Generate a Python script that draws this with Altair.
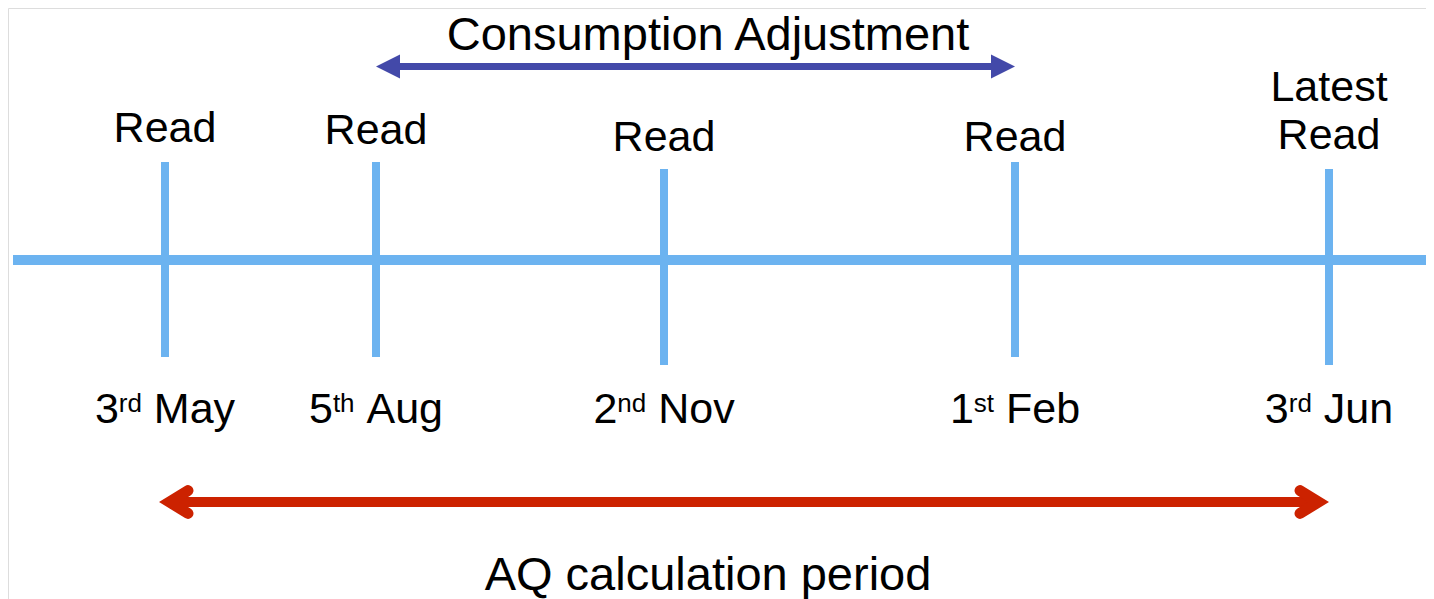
import altair as alt
import pandas as pd

# ---------------- data ----------------
EVENT_POS = [165, 376, 664, 1015, 1329]          # schematic position of each meter read
TOP_LABELS = ["Read", "Read", "Read", "Read", "Latest\nRead"]
DATE_NUM = ["3", "5", "2", "1", "3"]
DATE_SUP = ["rd", "th", "nd", "st", "rd"]
DATE_MONTH = ["May", "Aug", "Nov", "Feb", "Jun"]

ARROW_TEXT = ["Consumption Adjustment", "AQ calculation period"]
ARROW_FROM = [376, 165]
ARROW_TO = [1015, 1329]

TIMELINE_START = 13
TIMELINE_END = 1434

# ---------------- layout ----------------
LINE_Y = 260
TICK_TOP = [162, 162, 169, 162, 169]
TICK_BOTTOM = [357, 357, 365, 357, 365]
READ_BASELINE = [142, 144, 151, 151, 149]
READ_LINE_H = 48
DATE_BASELINE = 423
ARROW_Y = [66.5, 502]
ARROW_LABEL_X = [708, 708]
ARROW_LABEL_BASELINE = [50, 590]

FONT = "Liberation Sans"
F_MAIN = 43
F_SUP = 26
F_BIG = 47
LIGHT_BLUE = "#6CB3F0"
DARK_BLUE = "#4349A9"
RED = "#CC2200"

W, H = 1418, 591
xs = alt.Scale(domain=[8, 8 + W], nice=False, zero=False)
ys = alt.Scale(domain=[8, 8 + H], nice=False, zero=False, reverse=True)


def X(f="x"):
    return alt.X(f"{f}:Q", scale=xs, axis=None)


def Y(f="y"):
    return alt.Y(f"{f}:Q", scale=ys, axis=None)


# Arial / Liberation Sans advance widths (em)
ADV = {"0": .556, "1": .556, "2": .556, "3": .556, "4": .556, "5": .556,
       "r": .333, "d": .556, "t": .278, "h": .556, "n": .556, "s": .5,
       "M": .833, "a": .556, "y": .5, "A": .667, "u": .556, "g": .556,
       "N": .722, "o": .556, "v": .5, "F": .611, "e": .556, "b": .556,
       "J": .5, " ": .278}


def tw(s, size):
    return sum(ADV.get(c, .556) for c in s) * size


# ---------------- tables ----------------
line_df = pd.DataFrame({"x": [TIMELINE_START], "x2": [TIMELINE_END], "y": [LINE_Y]})
tick_df = pd.DataFrame({"x": EVENT_POS, "y": TICK_TOP, "y2": TICK_BOTTOM})

read_rows = []
for xp, lab, yb in zip(EVENT_POS, TOP_LABELS, READ_BASELINE):
    lines = lab.split("\n")
    n = len(lines)
    for i, ln in enumerate(lines):
        read_rows.append({"x": xp, "y": yb - (n - 1 - i) * READ_LINE_H, "text": ln})
read_df = pd.DataFrame(read_rows)

main_rows, sup_rows = [], []
for xp, num, sup, mon in zip(EVENT_POS, DATE_NUM, DATE_SUP, DATE_MONTH):
    wn, ws, sp, wm = tw(num, F_MAIN), tw(sup, F_SUP), tw(" ", F_MAIN), tw(mon, F_MAIN)
    left = xp - (wn + ws + sp + wm) / 2
    main_rows.append({"x": left, "y": DATE_BASELINE, "text": num})
    sup_rows.append({"x": left + wn, "y": DATE_BASELINE, "text": sup})
    main_rows.append({"x": left + wn + ws + sp, "y": DATE_BASELINE, "text": mon})
date_df = pd.DataFrame(main_rows)
sup_df = pd.DataFrame(sup_rows)

blue = pd.DataFrame({"x": [ARROW_FROM[0]], "x2": [ARROW_TO[0]], "y": [ARROW_Y[0]]})
red = pd.DataFrame({"x": [ARROW_FROM[1]], "x2": [ARROW_TO[1]], "y": [ARROW_Y[1]]})
blue_l = pd.DataFrame({"x": [ARROW_FROM[0]], "y": [ARROW_Y[0]]})
blue_r = pd.DataFrame({"x": [ARROW_TO[0]], "y": [ARROW_Y[0]]})
red_l = pd.DataFrame({"x": [ARROW_FROM[1]], "y": [ARROW_Y[1]]})
red_r = pd.DataFrame({"x": [ARROW_TO[1]], "y": [ARROW_Y[1]]})
arrow_lab = pd.DataFrame({"x": ARROW_LABEL_X, "y": ARROW_LABEL_BASELINE, "text": ARROW_TEXT})

# ---------------- marks ----------------
timeline = alt.Chart(line_df).mark_rule(color=LIGHT_BLUE, strokeWidth=10).encode(
    x=X(), x2="x2:Q", y=Y())
ticks = alt.Chart(tick_df).mark_rule(color=LIGHT_BLUE, strokeWidth=8).encode(
    x=X(), y=Y(), y2="y2:Q")

blue_shaft = alt.Chart(blue).mark_rule(color=DARK_BLUE, strokeWidth=7, xOffset=15, x2Offset=-15).encode(
    x=X(), x2="x2:Q", y=Y())
blue_head_l = alt.Chart(blue_l).mark_point(shape="M0,0L2,-1L2,1Z", size=576, filled=True,
                                           color=DARK_BLUE, opacity=1, strokeWidth=0).encode(x=X(), y=Y())
blue_head_r = alt.Chart(blue_r).mark_point(shape="M0,0L-2,-1L-2,1Z", size=576, filled=True,
                                           color=DARK_BLUE, opacity=1, strokeWidth=0).encode(x=X(), y=Y())

red_shaft = alt.Chart(red).mark_rule(color=RED, strokeWidth=10, xOffset=5, x2Offset=-11).encode(
    x=X(), x2="x2:Q", y=Y())
red_head_l = alt.Chart(red_l).mark_point(shape="M3.83,-1.9L0.75,0L3.83,1.9", size=144, filled=False,
                                         color=RED, opacity=1, strokeWidth=11, strokeCap="round",
                                         strokeJoin="miter").encode(x=X(), y=Y())
red_head_r = alt.Chart(red_r).mark_point(shape="M-4.83,-1.9L-1.75,0L-4.83,1.9", size=144, filled=False,
                                         color=RED, opacity=1, strokeWidth=11, strokeCap="round",
                                         strokeJoin="miter").encode(x=X(), y=Y())

read_text = alt.Chart(read_df).mark_text(font=FONT, fontSize=F_MAIN, align="center", baseline="alphabetic",
                                         color="black").encode(x=X(), y=Y(), text="text:N")
date_text = alt.Chart(date_df).mark_text(font=FONT, fontSize=F_MAIN, align="left", baseline="alphabetic",
                                         color="black").encode(x=X(), y=Y(), text="text:N")
sup_text = alt.Chart(sup_df).mark_text(font=FONT, fontSize=F_SUP, align="left", baseline="alphabetic",
                                       dy=-11, color="black").encode(x=X(), y=Y(), text="text:N")
arrow_text = alt.Chart(arrow_lab).mark_text(font=FONT, fontSize=F_BIG, align="center", baseline="alphabetic",
                                            color="black").encode(x=X(), y=Y(), text="text:N")

chart = alt.layer(
    timeline, ticks, blue_shaft, blue_head_l, blue_head_r,
    red_shaft, red_head_l, red_head_r,
    read_text, date_text, sup_text, arrow_text,
).properties(
    width=W, height=H, padding=0, autosize=alt.AutoSizeParams(type="none"),
).configure_view(stroke="transparent", strokeWidth=0).configure(background="white")

chart.save("out.html", embed_options={"renderer": "svg", "actions": False})
